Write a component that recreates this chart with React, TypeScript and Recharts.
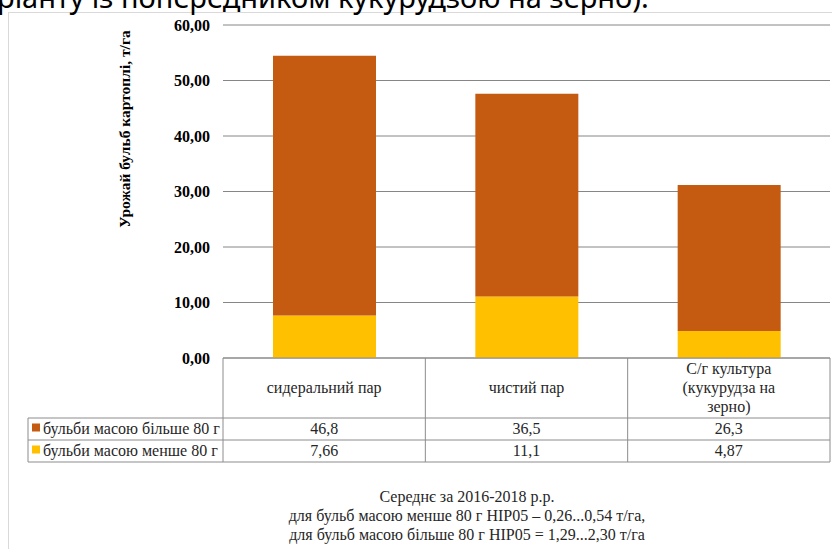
import React from "react";
import { Bar, BarChart, CartesianGrid, XAxis, YAxis } from "recharts";

const categories = ["сидеральний пар", "чистий пар", "С/г культура (кукурудза на зерно)"];
const headerLines = [["сидеральний пар"], ["чистий пар"], ["С/г культура", "(кукурудза  на", "зерно)"]];
const bigTubers = [46.8, 36.5, 26.3];
const smallTubers = [7.66, 11.1, 4.87];
const seriesNames = ["бульби масою більше 80 г", "бульби масою менше 80 г"];
const yTicks = [0, 10, 20, 30, 40, 50, 60];
const footerLines = [
  "Середнє за 2016-2018  р.р.",
  "для бульб масою менше 80 г НІР05  – 0,26...0,54  т/га,",
  "для бульб масою більше 80 г НІР05 = 1,29...2,30  т/га",
];
const yTitle = "Урожай бульб картоплі, т/га";
const topText = "ріанту із попередником кукурудзою на зерно).";

const chartData = categories.map((name, i) => ({
  name,
  big: bigTubers[i],
  small: smallTubers[i],
}));

const ORANGE = "#C55A11";
const YELLOW = "#FFC000";
const SERIF = "'Liberation Serif', 'Times New Roman', serif";
const FS = 16;

// plot box
const PL = 223;
const PR = 830;
const PT = 25;
const PB = 358;
const colW = (PR - PL) / categories.length;
const rowY = [PB, 418, 440, 462];
const tableLeft = 28;

const fmt = (v: number) => String(v).replace(".", ",");

function TableOverlay() {
  const rows = [bigTubers, smallTubers];
  const colors = [ORANGE, YELLOW];
  return (
    <svg
      width={832}
      height={549}
      style={{ position: "absolute", left: 0, top: 0, pointerEvents: "none" }}
    >
      <text x={-3} y={8} fontFamily="'Noto Sans', sans-serif" fontSize={29} fill="#000">
        {topText}
      </text>
      {/* table lines */}
      <g stroke="#8c8c8c" strokeWidth={1} fill="none">
        <line x1={PL} y1={PB} x2={PR} y2={PB} />
        <line x1={tableLeft} y1={rowY[1]} x2={PR} y2={rowY[1]} />
        <line x1={tableLeft} y1={rowY[2]} x2={PR} y2={rowY[2]} />
        <line x1={tableLeft} y1={rowY[3]} x2={PR} y2={rowY[3]} />
        <line x1={tableLeft} y1={rowY[1]} x2={tableLeft} y2={rowY[3]} />
        {categories.map((_, i) => (
          <line key={i} x1={PL + i * colW} y1={PB} x2={PL + i * colW} y2={rowY[3]} />
        ))}
        <line x1={PR} y1={PB} x2={PR} y2={rowY[3]} />
      </g>
      {headerLines.map((lines, i) => {
        const cx = PL + colW * (i + 0.5);
        const cy = (PB + rowY[1]) / 2;
        const lh = 19;
        const y0 = cy - ((lines.length - 1) * lh) / 2 + 5;
        return lines.map((ln, j) => (
          <text
            key={i + "-" + j}
            x={cx}
            y={y0 + j * lh}
            textAnchor="middle"
            fontFamily={SERIF}
            fontSize={FS}
            fill="#262626"
          >
            {ln}
          </text>
        ));
      })}
      {rows.map((vals, r) => {
        const cy = (rowY[r + 1] + rowY[r + 2]) / 2 + 4.5;
        return (
          <g key={r}>
            <rect x={32} y={cy - 10} width={8} height={8} fill={colors[r]} />
            <text x={43} y={cy} fontFamily={SERIF} fontSize={FS} fill="#262626">
              {seriesNames[r]}
            </text>
            {vals.map((v, i) => (
              <text
                key={i}
                x={PL + colW * (i + 0.5)}
                y={cy}
                textAnchor="middle"
                fontFamily={SERIF}
                fontSize={FS}
                fill="#262626"
              >
                {fmt(v)}
              </text>
            ))}
          </g>
        );
      })}
      {footerLines.map((ln, i) => (
        <text
          key={i}
          x={467}
          y={502 + i * 19}
          textAnchor="middle"
          fontFamily={SERIF}
          fontSize={FS}
          fill="#262626"
        >
          {ln}
        </text>
      ))}
    </svg>
  );
}

export default function App() {
  return (
    <div
      style={{
        position: "absolute",
        left: 0,
        top: 0,
        width: 832,
        height: 549,
        background: "#fff",
        overflow: "hidden",
      }}
    >
      <div
        style={{
          position: "absolute",
          left: 8,
          top: 12,
          width: 840,
          height: 560,
          border: "1px solid #d9d9d9",
        }}
      />
      <BarChart
        width={832}
        height={549}
        data={chartData}
        margin={{ top: PT, right: 832 - PR, left: PL - 100, bottom: 549 - PB }}
        style={{ position: "absolute", left: 0, top: 0 }}
      >
        <CartesianGrid horizontal vertical={false} stroke="#868686" strokeWidth={1} />
        <XAxis dataKey="name" hide />
        <YAxis
          width={100}
          domain={[0, 60]}
          ticks={yTicks}
          axisLine={false}
          tickLine={false}
          tickSize={0}
          tickMargin={13}
          tickFormatter={(v: number) => v.toFixed(2).replace(".", ",")}
          tick={{ fontFamily: SERIF, fontSize: 16, fontWeight: "bold", fill: "#000" }}
          label={{
            content: () => (
              <text
                x={130}
                y={129}
                transform="rotate(-90,130,129)"
                textAnchor="middle"
                fontFamily={SERIF}
                fontSize={15.5}
                fontWeight="bold"
                fill="#000"
              >
                {yTitle}
              </text>
            ),
          }}
        />
        <Bar dataKey="small" stackId="a" fill={YELLOW} barSize={103} isAnimationActive={false} />
        <Bar dataKey="big" stackId="a" fill={ORANGE} barSize={103} isAnimationActive={false} />
      </BarChart>
      <TableOverlay />
    </div>
  );
}
